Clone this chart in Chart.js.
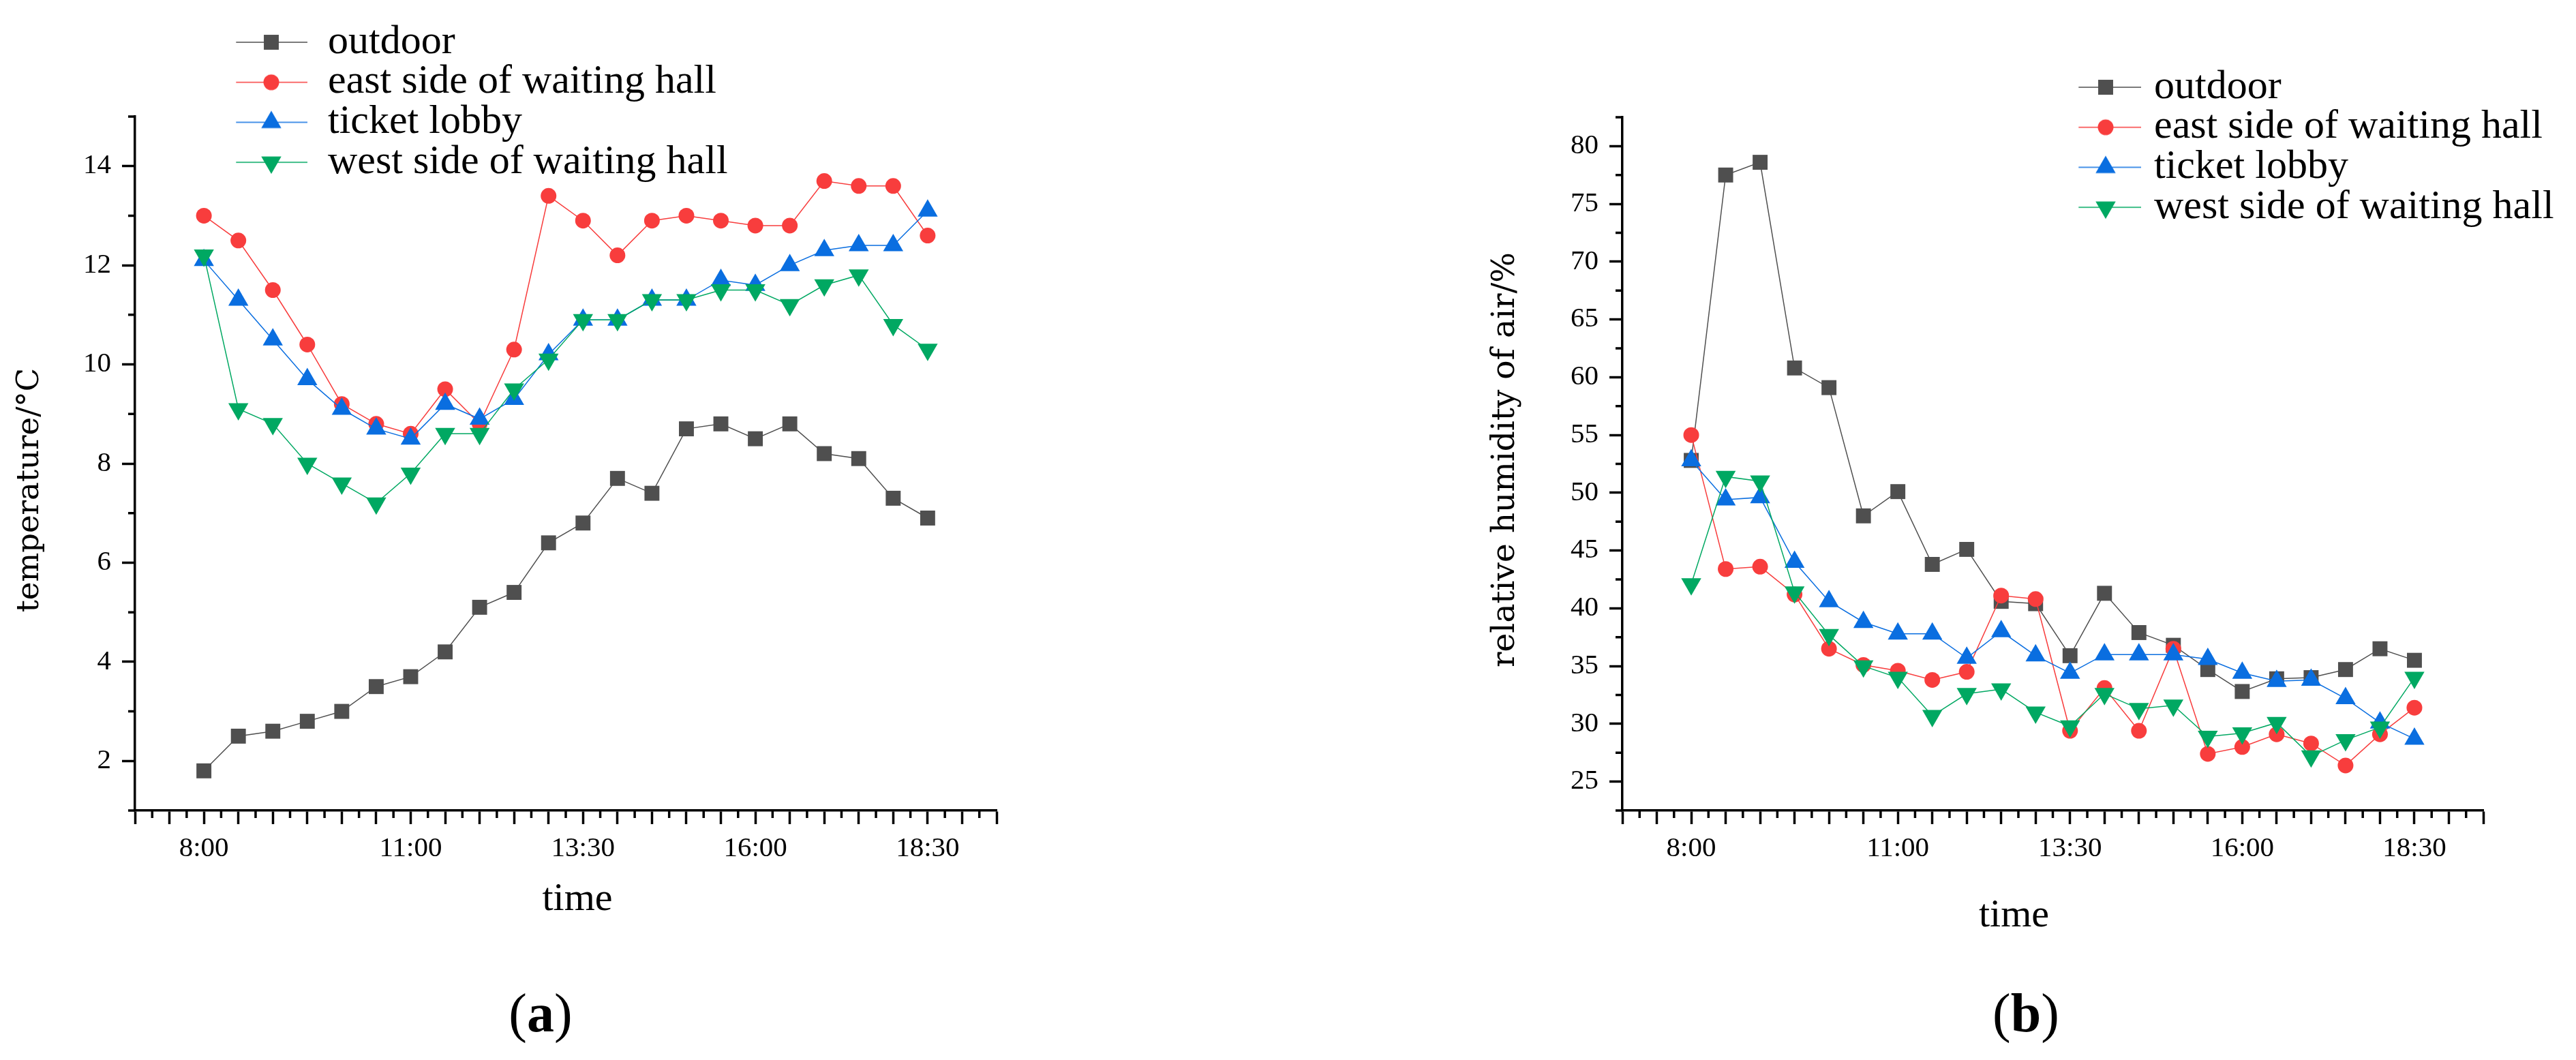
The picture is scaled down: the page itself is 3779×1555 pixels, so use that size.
<!DOCTYPE html>
<html>
<head>
<meta charset="utf-8">
<script src="https://cdn.jsdelivr.net/npm/chart.js@4.4.1/dist/chart.umd.min.js"></script>
<style>
html,body{margin:0;padding:0;background:#fff;}
#wrap{position:relative;width:3779px;height:1555px;overflow:hidden;background:#fff;}
canvas{position:absolute;top:0;}
#cA{left:0;}
#cB{left:1890px;}
.panel{position:absolute;top:1446px;width:300px;text-align:center;font-family:"Liberation Serif","Times New Roman",serif;font-size:80px;line-height:80px;color:#000;}
.panel b{font-weight:bold;}
</style>
</head>
<body>
<div id="wrap">
  <canvas id="cA" width="1890" height="1555"></canvas>
  <canvas id="cB" width="1889" height="1555"></canvas>
  <div class="panel" style="left:643px">(<b>a</b>)</div>
  <div class="panel" style="left:2822px">(<b>b</b>)</div>
</div>
<script>
// ---------------- data ----------------
const times = ['8:00','8:30','9:00','9:30','10:00','10:30','11:00','11:30','12:00','12:30','13:00',
               '13:30','14:00','14:30','15:00','15:30','16:00','16:30','17:00','17:30','18:00','18:30'];
const tickLabels = ['8:00','11:00','13:30','16:00','18:30'];
const seriesNames = ['outdoor','east side of waiting hall','ticket lobby','west side of waiting hall'];

// (a) temperature / °C
const tempOutdoor = [1.8,2.5,2.6,2.8,3.0,3.5,3.7,4.2,5.1,5.4,6.4,6.8,7.7,7.4,8.7,8.8,8.5,8.8,8.2,8.1,7.3,6.9];
const tempEast    = [13.0,12.5,11.5,10.4,9.2,8.8,8.6,9.5,8.8,10.3,13.4,12.9,12.2,12.9,13.0,12.9,12.8,12.8,13.7,13.6,13.6,12.6];
const tempTicket  = [12.1,11.3,10.5,9.7,9.1,8.7,8.5,9.2,8.9,9.3,10.2,10.9,10.9,11.3,11.3,11.7,11.6,12.0,12.3,12.4,12.4,13.1];
const tempWest    = [12.2,9.1,8.8,8.0,7.6,7.2,7.8,8.6,8.6,9.5,10.1,10.9,10.9,11.3,11.3,11.5,11.5,11.2,11.6,11.8,10.8,10.3];

// (b) relative humidity of air / %
const humOutdoor = [52.8,77.5,78.6,60.8,59.1,48.0,50.1,43.8,45.1,40.6,40.4,35.9,41.3,37.9,36.8,34.7,32.8,33.9,34.0,34.7,36.5,35.5];
const humEast    = [55.0,43.4,43.6,41.2,36.5,35.1,34.6,33.8,34.5,41.1,40.8,29.4,33.1,29.4,36.5,27.4,28.0,29.1,28.3,26.4,29.1,31.4];
const humTicket  = [52.8,49.4,49.6,44.0,40.6,38.8,37.8,37.8,35.7,38.0,35.9,34.4,36.0,36.0,36.0,35.6,34.4,33.7,33.8,32.2,30.1,28.7];
const humWest    = [42.1,51.4,51.0,41.4,37.7,35.0,34.0,30.7,32.6,33.0,31.0,29.8,32.6,31.3,31.6,28.9,29.2,30.1,27.2,28.6,29.7,34.0];

const tempTicks = [2,4,6,8,10,12,14];
const humTicks  = [25,30,35,40,45,50,55,60,65,70,75,80];

// ---------------- style ----------------
const serif = '"Liberation Serif","Times New Roman",serif';
const titleSerif = '"DejaVu Serif",serif';
const seriesColors = ['#4f4f4f','#f83d3d','#0a6ee0','#00a862'];
const seriesStyles = ['rect','circle','triangle','triangle'];
const seriesRotation = [0,0,0,180];
const seriesRadius = [15.5,11.5,17,17];

function range(a, b, step) { const r = []; for (let v = a; v <= b + 1e-9; v += step) r.push(Math.round(v * 1000) / 1000); return r; }

function legendImage(k, width) {
  const c = document.createElement('canvas');
  c.width = width; c.height = 48;
  const g = c.getContext('2d');
  g.strokeStyle = seriesColors[k]; g.lineWidth = 1.5;
  g.beginPath(); g.moveTo(0, 24); g.lineTo(width, 24); g.stroke();
  g.fillStyle = seriesColors[k]; g.strokeStyle = seriesColors[k];
  Chart.helpers.drawPoint(g, {pointStyle: seriesStyles[k], radius: seriesRadius[k], rotation: seriesRotation[k], borderWidth: 0}, width / 2, 24);
  return c;
}

const placer = {
  id: 'placer',
  afterLayout(chart, args, opts) {
    const lg = chart.legend;
    if (lg) {
      const w = lg.width;
      lg.left = opts.legendX; lg.top = opts.legendY;
      lg.right = lg.left + w; lg.height = 1400; lg.bottom = lg.top + 1400;
    }
    const x = chart.scales.x, xt = chart.scales.xt, y = chart.scales.y, yt = chart.scales.yt;
    // title-only axes: same box as the main axes, nudged to where the titles sit
    xt.left = x.left + opts.xTitleDx; xt.right = x.right + opts.xTitleDx;
    xt.top = x.top; xt.bottom = x.bottom; xt.width = x.width; xt.height = x.height;
    yt.left = y.left; yt.right = y.right; yt.width = y.width;
    yt.top = y.top + opts.yTitleDy; yt.bottom = y.bottom + opts.yTitleDy; yt.height = y.height;
  },
  afterDraw(chart, args, opts) {
    const ctx = chart.ctx, xs = chart.scales.x, ys = chart.scales.y, ca = chart.chartArea;
    ctx.save();
    ctx.strokeStyle = '#000'; ctx.lineWidth = 3.5; ctx.lineCap = 'butt';
    ctx.beginPath();
    opts.xMinor.forEach(v => { const p = xs.getPixelForValue(v); ctx.moveTo(p, ca.bottom); ctx.lineTo(p, ca.bottom + 11); });
    opts.yMinor.forEach(v => { const p = ys.getPixelForValue(v); ctx.moveTo(ca.left - 10, p); ctx.lineTo(ca.left, p); });
    ctx.stroke();
    ctx.restore();
  }
};

function build(id, values, cfg) {
  const images = values.map((_, k) => legendImage(k, cfg.legendImgW));
  const datasets = values.map((vals, k) => ({
    label: seriesNames[k],
    data: vals.map((v, i) => ({x: i, y: v})),
    xAxisID: 'x', yAxisID: 'y',
    borderColor: seriesColors[k],
    backgroundColor: seriesColors[k],
    borderWidth: 1.5,
    pointStyle: seriesStyles[k],
    pointRotation: seriesRotation[k],
    pointRadius: seriesRadius[k],
    pointHoverRadius: seriesRadius[k],
    pointBackgroundColor: seriesColors[k],
    pointBorderColor: seriesColors[k],
    pointBorderWidth: 0,
    tension: 0,
    clip: false,
    order: values.length - 1 - k
  }));
  const xMajor = range(-2, 23, 1);
  const xMinor = range(-1.5, 22.5, 1);
  const hidden = {display: false};
  return new Chart(document.getElementById(id), {
    type: 'line',
    data: {datasets},
    plugins: [placer],
    options: {
      responsive: false,
      animation: false,
      devicePixelRatio: 1,
      events: [],
      layout: {padding: {left: 0, top: cfg.padTop, right: cfg.padRight, bottom: 0}},
      plugins: {
        tooltip: {enabled: false},
        title: {display: false},
        placer: {legendX: cfg.legendX, legendY: cfg.legendY, xMinor: xMinor, yMinor: cfg.yMinor,
                 xTitleDx: cfg.xTitleDx, yTitleDy: cfg.yTitleDy},
        legend: {
          display: true,
          position: 'chartArea',
          align: 'start',
          labels: {
            usePointStyle: true,
            pointStyleWidth: cfg.legendBoxW,
            padding: -1.3,
            color: '#000',
            font: {family: serif, size: 60},
            generateLabels: chart => chart.data.datasets.map((ds, k) => ({
              text: ds.label, pointStyle: images[k], fillStyle: seriesColors[k],
              strokeStyle: seriesColors[k], lineWidth: 0, hidden: false, datasetIndex: k, fontColor: '#000'
            }))
          }
        }
      },
      scales: {
        x: {
          type: 'linear', position: 'bottom', weight: 0, min: -2, max: 23,
          afterBuildTicks: s => { s.ticks = xMajor.map(v => ({value: v})); },
          afterFit: s => { s.height = 366; },
          ticks: {
            autoSkip: false, maxRotation: 0, minRotation: 0, padding: 12, color: '#000',
            font: {family: serif, size: 41},
            callback: v => { const t = times[v]; return (t && tickLabels.includes(t)) ? t : ''; }
          },
          grid: {display: true, drawOnChartArea: false, drawTicks: true, tickLength: 20, tickWidth: 3.5, tickColor: '#000'},
          border: {display: true, color: '#000', width: 3.5},
          title: hidden
        },
        xt: {
          type: 'linear', position: 'bottom', weight: 5, min: 0, max: 1,
          afterFit: s => { s.height = 0; },
          ticks: hidden, grid: {display: false, drawTicks: false}, border: hidden,
          title: {display: true, text: 'time', color: '#000', font: {family: serif, size: 58}, padding: {top: 0, bottom: cfg.xTitlePad}}
        },
        y: {
          type: 'linear', position: 'left', weight: 0, min: cfg.yMin, max: cfg.yMax,
          afterBuildTicks: s => { s.ticks = cfg.yTicks.map(v => ({value: v})); },
          afterFit: s => { s.width = cfg.yWidth; },
          ticks: {autoSkip: false, padding: 16, color: '#000', font: {family: serif, size: 41}},
          grid: {display: true, drawOnChartArea: false, drawTicks: true, tickLength: 19, tickWidth: 3.5, tickColor: '#000'},
          border: {display: true, color: '#000', width: 3.5},
          title: hidden
        },
        yt: {
          type: 'linear', position: 'left', weight: 5, min: 0, max: 1,
          afterFit: s => { s.width = 0; },
          ticks: hidden, grid: {display: false, drawTicks: false}, border: hidden,
          title: {display: true, text: cfg.yTitle, color: '#000', font: {family: titleSerif, size: cfg.yTitleSize}, padding: {top: cfg.yTitlePad, bottom: 0}}
        }
      }
    }
  });
}

build('cA', [tempOutdoor, tempEast, tempTicket, tempWest], {
  padTop: 171, padRight: 428, yWidth: 198,
  yMin: 1, yMax: 15, yTicks: tempTicks, yMinor: range(1, 15, 2),
  yTitle: 'temperature/°C', yTitleSize: 45, yTitlePad: 17, yTitleDy: 39,
  xTitlePad: 200, xTitleDx: 17,
  legendX: 346.3, legendY: 33.3, legendBoxW: 106, legendImgW: 106
});

build('cB', [humOutdoor, humEast, humTicket, humWest], {
  padTop: 172, padRight: 136, yWidth: 490,
  yMin: 22.5, yMax: 82.5, yTicks: humTicks, yMinor: range(22.5, 82.5, 5),
  yTitle: 'relative humidity of air/%', yTitleSize: 47, yTitlePad: 291, yTitleDy: -6,
  xTitlePad: 176, xTitleDx: -57,
  legendX: 1159.3, legendY: 99.3, legendBoxW: 82, legendImgW: 104
});
</script>
</body>
</html>
